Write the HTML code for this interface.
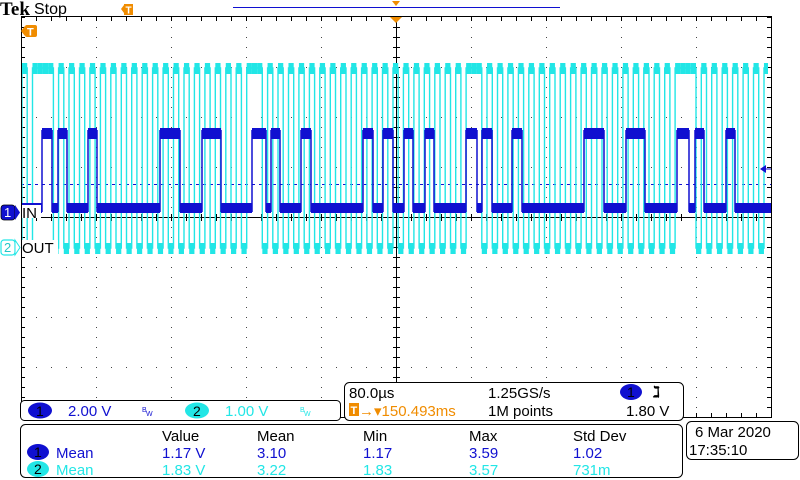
<!DOCTYPE html>
<html><head><meta charset="utf-8"><style>
html,body{margin:0;padding:0;background:#fff;width:800px;height:480px;overflow:hidden;font-family:"Liberation Sans",sans-serif;}
</style></head><body>
<svg id="s" width="800" height="480" xmlns="http://www.w3.org/2000/svg" style="position:absolute;left:0;top:0;font-family:'Liberation Sans',sans-serif">
<g id="grid"></g>
<path id="cy" fill="none" stroke="#22e6e6" stroke-width="1.4"/>
<g id="cn"></g>
<g id="bl"></g>
<line x1="21" y1="16.5" x2="772" y2="16.5" stroke="#000"/>
<line x1="21.5" y1="16" x2="21.5" y2="418" stroke="#000"/>
<line x1="771.5" y1="16" x2="771.5" y2="418" stroke="#000"/>
<line x1="21" y1="417.5" x2="772" y2="417.5" stroke="#000"/>
<text x="0" y="15" font-size="19" font-weight="bold" font-family="Liberation Serif,serif">Tek</text>
<text x="34" y="14" font-size="16">Stop</text>
<rect x="124" y="4" width="9" height="11" fill="#f08c00"/><text x="125.5" y="13.5" font-size="10" fill="#fff" font-weight="bold">T</text>
<polygon points="121,9 124,5 124,13" fill="#f08c00"/>
<line x1="233" y1="7.5" x2="560" y2="7.5" stroke="#1010d0"/>
<polygon points="392,1 400,1 396,6" fill="#f08c00"/>
<polygon points="390,17 402,17 396,23" fill="#f08c00"/>
<rect x="25" y="25" width="12" height="12" rx="2" fill="#f08c00"/><polygon points="21,31 25,26 25,36" fill="#f08c00"/><text x="27" y="35.5" font-size="11" fill="#fff" font-weight="bold">T</text>
<rect x="22" y="205" width="19" height="13" fill="#fff"/>
<rect x="22" y="240" width="36" height="14" fill="#fff"/>
<rect x="1" y="205" width="14" height="15" rx="3" fill="#1010d0" stroke="#000" stroke-width="0.8"/><polygon points="15,205 20,212.5 15,220" fill="#1010d0"/><text x="4" y="217" font-size="13" fill="#fff">1</text>
<text x="22" y="218" font-size="15">IN</text>
<rect x="1" y="240" width="14" height="15" rx="3" fill="#fff" stroke="#22e6e6" stroke-width="1.2"/><polygon points="15,240 20,247.5 15,255" fill="#fff" stroke="#22e6e6"/><text x="4" y="252" font-size="13" fill="#22c6c6">2</text>
<text x="22" y="253" font-size="15">OUT</text>
<polygon points="760,169 766,165 766,173" fill="#1010d0"/><line x1="766" y1="169" x2="771" y2="169" stroke="#1010d0"/>
<rect x="20.5" y="400.5" width="320" height="20" rx="4" fill="#fff" stroke="#000"/>
<ellipse cx="40" cy="410.5" rx="12" ry="8" fill="#1010d0"/><text x="36" y="416" font-size="14" fill="#000">1</text>
<text x="68" y="416" font-size="15" fill="#1010d0">2.00 V</text><text x="142" y="412" font-size="7" fill="#1010d0">B</text><text x="146" y="416" font-size="7" fill="#1010d0">W</text>
<ellipse cx="197" cy="410.5" rx="12" ry="8" fill="#22e6e6"/><text x="193" y="416" font-size="14" fill="#000">2</text>
<text x="225" y="416" font-size="15" fill="#22e6e6">1.00 V</text><text x="300" y="412" font-size="7" fill="#22e6e6">B</text><text x="304" y="416" font-size="7" fill="#22e6e6">W</text>
<rect x="344.5" y="382.5" width="339" height="38" rx="5" fill="#fff" stroke="#000"/>
<text x="349" y="398" font-size="15">80.0µs</text>
<text x="488" y="398" font-size="15">1.25GS/s</text>
<ellipse cx="631" cy="392" rx="11" ry="8" fill="#1010d0"/><text x="627" y="397" font-size="14">1</text>
<text x="653" y="397" font-size="15" font-weight="bold">ℷ</text>
<rect x="349" y="403" width="10" height="13" fill="#f08c00"/><text x="350.5" y="414" font-size="11" fill="#fff" font-weight="bold">T</text>
<text x="359" y="416" font-size="15" fill="#f08c00">→▾150.493ms</text>
<text x="488" y="416" font-size="15">1M points</text>
<text x="626" y="416" font-size="15">1.80 V</text>
<rect x="20.5" y="424.5" width="662" height="53" rx="5" fill="#fff" stroke="#000"/>
<g font-size="15">
<text x="162" y="441">Value</text><text x="257" y="441">Mean</text><text x="363" y="441">Min</text><text x="469" y="441">Max</text><text x="573" y="441">Std Dev</text>
<g fill="#1010d0"><ellipse cx="38" cy="452" rx="11" ry="8"/><text x="56" y="458">Mean</text><text x="162" y="458">1.17 V</text><text x="257" y="458">3.10</text><text x="363" y="458">1.17</text><text x="469" y="458">3.59</text><text x="573" y="458">1.02</text></g>
<text x="34" y="457" font-size="14">1</text>
<g fill="#22e6e6"><ellipse cx="38" cy="469" rx="11" ry="8"/><text x="56" y="475">Mean</text><text x="162" y="475">1.83 V</text><text x="257" y="475">3.22</text><text x="363" y="475">1.83</text><text x="469" y="475">3.57</text><text x="573" y="475">731m</text></g>
<text x="34" y="474" font-size="14">2</text>
</g>
<rect x="686.5" y="421.5" width="112" height="38" rx="5" fill="#fff" stroke="#000"/>
<text x="695" y="437" font-size="15">6 Mar  2020</text>
<text x="689" y="455" font-size="15">17:35:10</text>
</svg>
<script>
var NS="http://www.w3.org/2000/svg";
function el(p,t,a){var e=document.createElementNS(NS,t);for(var k in a)e.setAttribute(k,a[k]);p.appendChild(e);return e;}
var g=document.getElementById('grid');
for(var i=1;i<10;i++){var x=21+i*75;if(i==5)continue;for(var y=17;y<417;y+=10)el(g,'rect',{x:x,y:y,width:1,height:1,fill:'#444'});}
for(var j=1;j<8;j++){var y=17+j*50;if(j==4)continue;for(var x=21;x<771;x+=15)el(g,'rect',{x:x,y:y,width:1,height:1,fill:'#444'});}
el(g,'line',{x1:396.5,y1:17,x2:396.5,y2:417,stroke:'#000'});
el(g,'line',{x1:21,y1:217.5,x2:771,y2:217.5,stroke:'#000'});
for(var y=17;y<417;y+=10)el(g,'line',{x1:393,y1:y+.5,x2:400,y2:y+.5,stroke:'#000'});
for(var x=21;x<771;x+=15)el(g,'line',{x1:x+.5,y1:214,x2:x+.5,y2:221,stroke:'#000'});
for(var x=21;x<771;x+=15){el(g,'line',{x1:x+.5,y1:17,x2:x+.5,y2:21,stroke:'#000'});el(g,'line',{x1:x+.5,y1:413,x2:x+.5,y2:417,stroke:'#000'});}
for(var y=17;y<417;y+=10){el(g,'line',{x1:21,y1:y+.5,x2:25,y2:y+.5,stroke:'#000'});el(g,'line',{x1:767,y1:y+.5,x2:771,y2:y+.5,stroke:'#000'});}
el(g,'line',{x1:21,y1:184.5,x2:771,y2:184.5,stroke:'#1010d0','stroke-dasharray':'3,4'});
var holds=[[37,53],[247,262],[462,480],[673,693]];
function held(x){for(var h of holds)if(x>=h[0]&&x<=h[1])return true;return false;}
var cn=document.getElementById('cn');
var d='M22,248',x=22,hi=false,per=10.45;
while(x<768){var nx=Math.min(x+per/2,768);
 if(held(x)){hi=true;} else hi=!hi;
 var yv=hi?68:248; d+=' L'+x.toFixed(1)+','+yv+' L'+nx.toFixed(1)+','+yv;
 if(hi)el(cn,'rect',{x:x,y:63,width:nx-x,height:11,fill:'#22e6e6'});
 else el(cn,'rect',{x:x,y:243,width:nx-x,height:11,fill:'#22e6e6'});
 x=nx;}
document.getElementById('cy').setAttribute('d',d);
var cg=document.getElementById('bl');
var highs=[[42,52],[58,67],[88,97],[160,180],[202,221],[252,266],[271,280],[301,311],[363,373],[383,393],[404,413],[425,434],[466,477],[482,492],[512,522],[584,604],[626,645],[677,689],[695,704],[726,735]];
var prev=22;
for(var h of highs){
 el(cg,'rect',{x:prev,y:203,width:h[0]-prev,height:10,fill:'#1010d0'});
 el(cg,'line',{x1:h[0],y1:130,x2:h[0],y2:212,stroke:'#1010d0','stroke-width':1.5});
 el(cg,'rect',{x:h[0],y:128,width:h[1]-h[0],height:11,fill:'#1010d0'});
 el(cg,'line',{x1:h[1],y1:130,x2:h[1],y2:212,stroke:'#1010d0','stroke-width':1.5});
 prev=h[1];}
el(cg,'rect',{x:prev,y:203,width:771-prev,height:10,fill:'#1010d0'});
</script>
</body></html>
